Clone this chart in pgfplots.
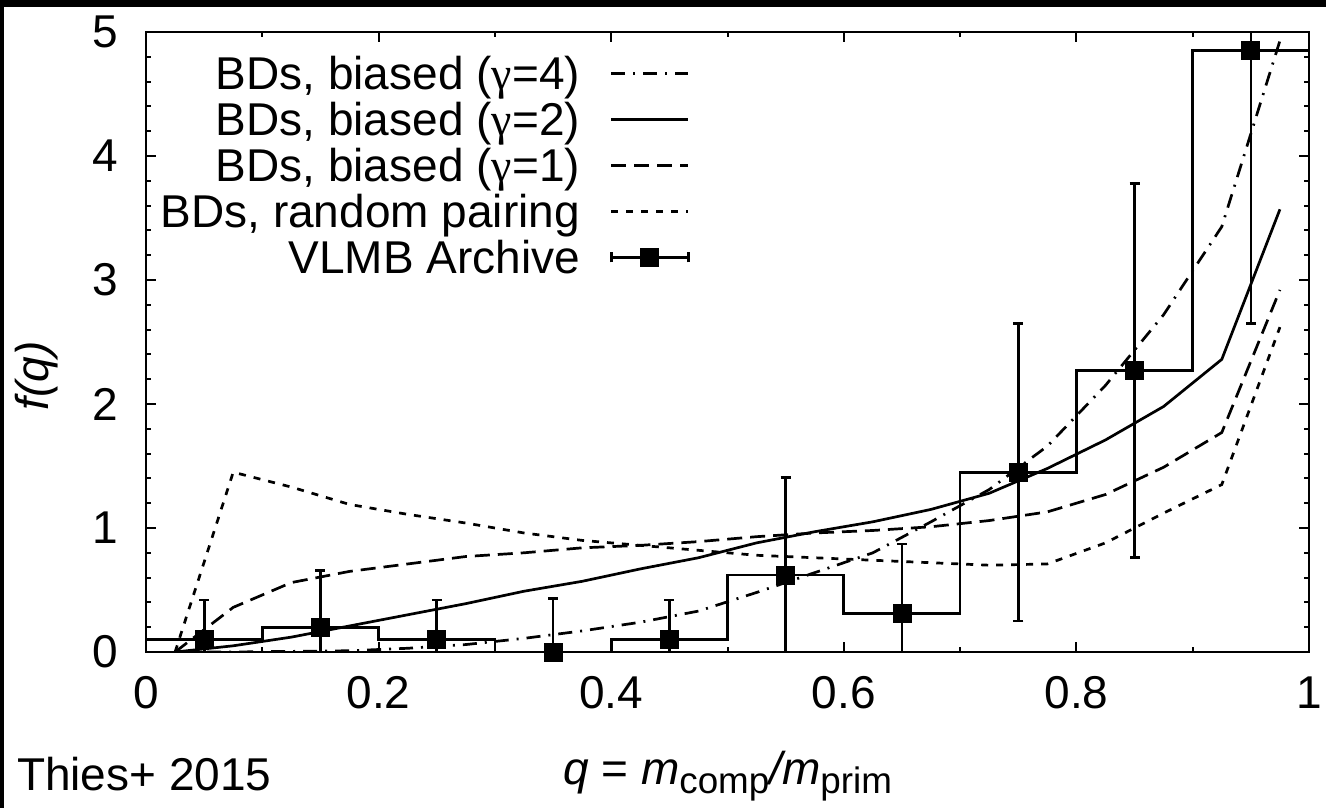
\documentclass[border=0pt]{standalone}
\usepackage{fontspec}
\setmainfont{Liberation Sans}
\newfontfamily\grk{Liberation Serif}
\usepackage{pgfplots}
\pgfplotsset{compat=1.18}

\newcommand{\lbl}{\fontsize{23}{27}\selectfont}
\newcommand{\sub}[1]{\raisebox{-4.5pt}{\fontsize{18.4}{20}\selectfont\upshape #1}}

\begin{document}
\begin{tikzpicture}[x=1pt,y=1pt]
% page frame: 663pt x 404pt, plot box starts at the origin
\fill[black] (-73,-78) rectangle (590,326);
\fill[white] (-71,-78) rectangle (590,322.5);
\useasboundingbox (-73,-78) rectangle (590,326);
\begin{axis}[
  at={(0,0)}, anchor=south west,
  scale only axis, width=581.5pt, height=310pt,
  xmin=0, xmax=1, ymin=0, ymax=5,
  xtick={0,0.2,0.4,0.6,0.8,1}, xticklabels={0,0.2,0.4,0.6,0.8,1},
  minor x tick num=1,
  ytick={0,1,2,3,4,5}, minor y tick num=4,
  tick align=inside,
  major tick length=5pt, minor tick length=2.5pt,
  every tick/.style={black, line width=1pt},
  axis line style={line width=1.3pt},
  /pgf/number format/assume math mode=true,
  tick label style={font=\lbl},
  xticklabel style={anchor=north, inner sep=0pt, yshift=-12pt},
  yticklabel style={anchor=east, inner sep=0pt, xshift=-14pt},
  legend cell align=right,
  legend plot pos=right,
  legend style={draw=none, fill=none, inner sep=0pt, row sep=0pt,
    column sep=15pt, at={(0.4678,0.971)}, anchor=north east, font=\lbl,
    nodes={inner sep=0pt, text height=19.7pt, text depth=3.3pt}},
  legend image code/.code={\draw[#1] (0pt,0pt) -- (38.5pt,0pt);},
]

% observed histogram (bin left edges)
\addplot[const plot, line width=1.35pt, black, forget plot] coordinates {
  (0,0.10) (0.1,0.20) (0.2,0.10) (0.3,0) (0.4,0.10) (0.5,0.62)
  (0.6,0.31) (0.7,1.45) (0.8,2.27) (0.9,4.85) (1,4.85)};

% gamma = 4
\addplot[black, line width=1.35pt, dash pattern=on 7pt off 4pt on 1pt off 4pt] table {
x y
0.025 0
0.075 0
0.125 0.005
0.175 0.01
0.225 0.03
0.275 0.06
0.325 0.11
0.375 0.17
0.425 0.24
0.475 0.33
0.525 0.48
0.575 0.64
0.625 0.80
0.675 1.05
0.725 1.31
0.775 1.66
0.825 2.15
0.875 2.72
0.925 3.43
0.975 4.93
};
\addlegendentry{BDs, biased ({\grk γ}=4)}

% gamma = 2
\addplot[black, line width=1.35pt] table {
x y
0.025 0
0.075 0.05
0.125 0.12
0.175 0.21
0.225 0.30
0.275 0.39
0.325 0.49
0.375 0.57
0.425 0.67
0.475 0.76
0.525 0.88
0.575 0.97
0.625 1.05
0.675 1.15
0.725 1.28
0.775 1.48
0.825 1.71
0.875 1.98
0.925 2.36
0.975 3.57
};
\addlegendentry{BDs, biased ({\grk γ}=2)}

% gamma = 1
\addplot[black, line width=1.35pt, dash pattern=on 7.5pt off 4pt] table {
x y
0.025 0
0.075 0.36
0.125 0.56
0.175 0.65
0.225 0.71
0.275 0.77
0.325 0.80
0.375 0.84
0.425 0.86
0.475 0.89
0.525 0.93
0.575 0.96
0.625 0.98
0.675 1.01
0.725 1.06
0.775 1.13
0.825 1.27
0.875 1.49
0.925 1.77
0.975 2.92
};
\addlegendentry{BDs, biased ({\grk γ}=1)}

% random pairing
\addplot[black, line width=1.35pt, dash pattern=on 3.5pt off 4pt] table {
x y
0.025 0
0.075 1.45
0.125 1.33
0.175 1.19
0.225 1.11
0.275 1.04
0.325 0.96
0.375 0.90
0.425 0.86
0.475 0.82
0.525 0.78
0.575 0.76
0.625 0.74
0.675 0.72
0.725 0.70
0.775 0.71
0.825 0.88
0.875 1.12
0.925 1.35
0.975 2.62
};
\addlegendentry{BDs, random pairing}

% observed points with error bars
\addplot[black, only marks, mark=square*, mark size=4.5pt,
  error bars/.cd, y dir=both, y explicit,
  error bar style={line width=1.35pt},
  error mark options={rotate=90, mark size=2.5pt, line width=1.35pt},
  /pgfplots/legend image code/.code={
    \draw[line width=1.35pt] (0pt,0pt) -- (38.5pt,0pt);
    \draw[line width=1.35pt] (0pt,-2.5pt) -- (0pt,2.5pt);
    \draw[line width=1.35pt] (38.5pt,-2.5pt) -- (38.5pt,2.5pt);
    \fill (14.75pt,-4.5pt) rectangle (23.75pt,4.5pt);}
] table[x=q, y=f, y error plus=ep, y error minus=em] {
q    f    ep   em
0.05 0.10 0.32 0.10
0.15 0.20 0.46 0.20
0.25 0.10 0.32 0.10
0.35 0.00 0.43 0.00
0.45 0.10 0.32 0.10
0.55 0.62 0.79 0.62
0.65 0.31 0.56 0.31
0.75 1.45 1.20 1.20
0.85 2.27 1.51 1.51
0.95 4.85 0.15 2.20
};
\addlegendentry{VLMB Archive}
\end{axis}

\node[rotate=90, font=\lbl\itshape] at (-54.5,138) {f(q)};
\node[anchor=base, font=\lbl] at (290.75,-66)
  {\itshape q\upshape{} = \itshape m\sub{comp}/m\sub{prim}};
\node[anchor=base west, font=\lbl] at (-68,-69) {Thies+ 2015};
\end{tikzpicture}
\end{document}
